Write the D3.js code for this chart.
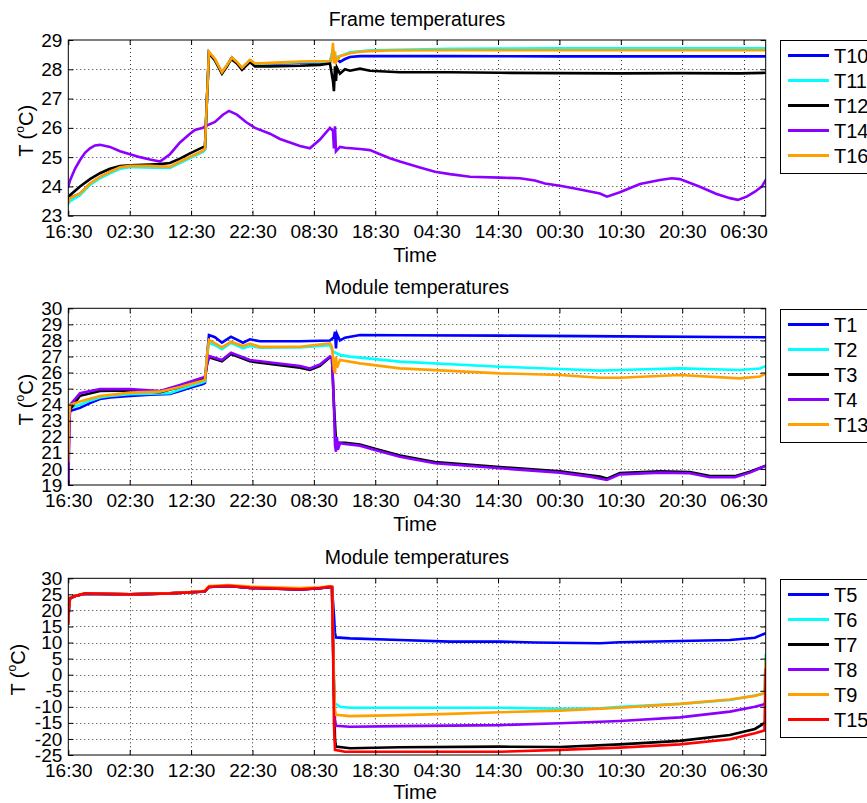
<!DOCTYPE html>
<html><head><meta charset="utf-8">
<script src="https://cdn.jsdelivr.net/npm/d3@7"></script>
<style>
body{margin:0;background:#fff}
svg{display:block}
text{font-family:"Liberation Sans",Arial,Helvetica,sans-serif;fill:#000}
</style>
</head><body>
<svg id="chart" width="867" height="803"></svg>
<script>
// ---------- DATA (x = hours since 16:30 on day 1, y = temperature °C) ----------
const xTickHours = [0,10,20,30,40,50,60,70,80,90,100,110];
const xTickLabels = ["16:30","02:30","12:30","22:30","08:30","18:30","04:30","14:30","00:30","10:30","20:30","06:30"];
const xEndHours = 113.6;

const frameTitle = "Frame temperatures";
const moduleTitle = "Module temperatures";
const frameYTicks = [23,24,25,26,27,28,29];
const moduleYTicks = [19,20,21,22,23,24,25,26,27,28,29,30];
const coldYTicks = [-25,-20,-15,-10,-5,0,5,10,15,20,25,30];

const frameNames = ["T10","T11","T12","T14","T16"];
const moduleNames = ["T1","T2","T3","T4","T13"];
const coldNames = ["T5","T6","T7","T8","T9","T15"];

// Frame temperatures
const T10 = [[0,23.5],[0.28,23.6],[1.91,23.75],[3.53,24.08],[5.16,24.3],[6.79,24.48],[8.42,24.62],[10.05,24.68],[16.56,24.65],[18.19,24.82],[19.82,24.99],[21.94,25.2],[22.26,25.27],[22.59,27.0],[22.91,28.58],[23.89,28.32],[25.03,27.88],[25.85,28.13],[26.66,28.4],[27.47,28.23],[28.29,28.03],[29.59,28.3],[30.41,28.18],[37.74,28.22],[42.62,28.24],[43.11,28.6],[43.44,28.4],[44.25,28.25],[45.07,28.35],[45.88,28.42],[47.51,28.45],[62.17,28.45],[80.09,28.44],[113.6,28.44]];
const T11 = [[0,23.4],[0.28,23.5],[1.91,23.7],[3.53,24.05],[5.16,24.28],[6.79,24.45],[8.42,24.6],[10.05,24.66],[16.56,24.64],[18.19,24.8],[19.82,24.97],[21.94,25.18],[22.26,25.25],[22.59,27.0],[22.91,28.55],[23.89,28.3],[25.03,27.88],[25.85,28.12],[26.66,28.38],[27.47,28.22],[28.29,28.03],[29.59,28.3],[30.41,28.18],[37.74,28.24],[42.62,28.26],[43.11,28.7],[43.44,28.4],[44.25,28.45],[45.88,28.58],[49.14,28.65],[62.17,28.7],[80.09,28.72],[113.6,28.72]];
const T12 = [[0,23.6],[0.28,23.7],[1.91,24.0],[3.53,24.25],[5.16,24.45],[6.79,24.6],[8.42,24.7],[10.05,24.72],[13.31,24.75],[14.93,24.76],[16.56,24.8],[18.19,24.95],[19.82,25.13],[21.94,25.34],[22.26,25.35],[22.59,27.0],[22.91,28.55],[23.89,28.3],[25.03,27.85],[25.85,28.1],[26.5,28.35],[27.47,28.2],[28.29,27.98],[29.59,28.25],[30.41,28.1],[32.85,28.1],[37.74,28.12],[40.99,28.15],[42.62,28.2],[43.11,27.6],[43.27,27.25],[43.44,28.1],[43.6,27.6],[43.76,28.05],[44.25,27.85],[45.07,28.0],[45.88,27.95],[47.51,28.02],[49.14,27.95],[54.02,27.9],[62.17,27.9],[70.31,27.88],[80.09,27.87],[89.85,27.86],[99.62,27.87],[109.4,27.86],[113.6,27.88]];
const T14 = [[0,24.0],[0.28,24.2],[1.09,24.6],[1.91,24.9],[2.72,25.15],[3.53,25.3],[4.35,25.4],[5.16,25.42],[6.79,25.35],[8.42,25.2],[10.05,25.1],[11.68,25.0],[13.31,24.92],[14.93,24.85],[16.56,25.1],[18.19,25.5],[19.82,25.8],[20.63,25.93],[21.94,26.0],[22.26,26.05],[23.89,26.2],[25.19,26.45],[26.17,26.58],[27.47,26.45],[28.94,26.2],[30.41,26.0],[32.85,25.8],[34.48,25.62],[36.11,25.5],[37.74,25.38],[39.36,25.3],[40.99,25.6],[42.62,26.0],[43.11,25.9],[43.27,25.3],[43.44,26.05],[43.6,25.2],[44.25,25.35],[45.07,25.32],[47.51,25.28],[49.14,25.24],[50.77,25.1],[52.39,24.96],[54.02,24.85],[57.28,24.65],[59.72,24.5],[62.17,24.42],[65.42,24.33],[70.31,24.3],[73.57,24.28],[76.01,24.2],[77.64,24.1],[80.09,24.02],[82.52,23.93],[86.6,23.76],[87.74,23.65],[89.85,23.8],[93.11,24.08],[96.37,24.22],[98.32,24.28],[99.62,24.25],[102.88,23.99],[105.5,23.75],[107.77,23.6],[109.07,23.54],[110.5,23.65],[111.84,23.82],[113.0,24.0],[113.6,24.22]];
const T16 = [[0,23.45],[0.28,23.6],[1.91,23.76],[3.53,24.1],[5.16,24.33],[6.79,24.5],[8.42,24.65],[10.05,24.7],[13.31,24.7],[16.56,24.67],[18.19,24.85],[19.82,25.01],[21.94,25.22],[22.26,25.3],[22.59,27.0],[22.91,28.6],[23.89,28.35],[25.03,27.9],[25.85,28.15],[26.66,28.4],[27.47,28.25],[28.29,28.05],[29.59,28.32],[30.41,28.2],[32.85,28.22],[37.74,28.26],[42.62,28.28],[42.95,28.4],[43.11,28.9],[43.27,28.2],[43.44,28.6],[43.6,28.25],[44.25,28.45],[45.07,28.5],[45.88,28.55],[47.51,28.6],[49.14,28.62],[52.39,28.64],[62.17,28.65],[80.09,28.65],[99.62,28.65],[113.6,28.65]];

// Module temperatures (upper)
const T1 = [[0,21.5],[0.11,23.2],[0.28,23.6],[1.91,23.8],[3.53,24.1],[5.16,24.35],[6.79,24.45],[10.05,24.55],[13.31,24.62],[16.56,24.66],[18.19,24.85],[19.82,25.05],[21.94,25.29],[22.26,25.35],[22.59,27.0],[22.91,28.34],[23.89,28.2],[25.03,27.86],[26.5,28.23],[27.47,28.05],[28.45,27.86],[29.59,28.07],[31.22,27.95],[37.74,27.95],[42.62,28.0],[43.27,28.2],[43.44,28.54],[43.6,27.5],[43.76,28.4],[44.25,28.0],[45.07,28.17],[47.51,28.34],[54.02,28.32],[70.31,28.3],[89.85,28.25],[113.6,28.2]];
const T2 = [[0,21.0],[0.11,23.0],[0.28,23.8],[1.91,24.0],[3.53,24.25],[5.16,24.45],[6.79,24.55],[10.05,24.65],[16.56,24.72],[18.19,24.95],[19.82,25.15],[21.94,25.4],[22.26,25.45],[22.59,27.0],[22.91,27.85],[23.89,27.7],[25.03,27.45],[26.5,27.85],[28.45,27.5],[29.59,27.65],[31.22,27.55],[37.74,27.57],[42.62,27.7],[43.11,27.3],[43.44,27.25],[44.25,27.1],[45.88,26.99],[54.02,26.68],[70.31,26.36],[80.09,26.22],[86.6,26.12],[89.85,26.16],[99.62,26.26],[109.4,26.16],[112.65,26.25],[113.6,26.4]];
const T3 = [[0,19.0],[0.11,22.5],[0.28,23.7],[1.91,24.55],[5.16,24.85],[10.05,24.88],[14.93,24.78],[18.19,25.1],[21.94,25.6],[22.26,25.65],[22.59,26.5],[22.91,26.95],[25.03,26.7],[26.5,27.15],[29.59,26.7],[37.74,26.3],[39.36,26.16],[40.99,26.42],[42.62,26.95],[42.95,26.9],[43.27,24.0],[43.6,21.8],[43.76,21.65],[45.07,21.62],[47.51,21.52],[49.95,21.26],[54.02,20.84],[59.72,20.43],[70.31,20.12],[80.09,19.85],[84.97,19.6],[86.6,19.52],[87.74,19.4],[89.85,19.74],[96.37,19.85],[101.25,19.8],[104.51,19.56],[108.58,19.55],[111.02,19.83],[113.6,20.2]];
const T4 = [[0,19.0],[0.11,21.0],[0.28,23.98],[1.91,24.71],[5.16,24.97],[10.05,24.97],[14.93,24.85],[18.19,25.22],[21.94,25.7],[22.26,25.75],[22.59,26.5],[22.91,27.03],[25.03,26.78],[26.5,27.24],[29.59,26.78],[37.74,26.41],[39.36,26.25],[40.99,26.5],[42.62,27.0],[42.95,26.9],[43.27,24.0],[43.44,21.5],[43.6,21.07],[43.76,22.0],[43.92,21.2],[44.25,21.6],[45.07,21.55],[47.51,21.45],[49.95,21.18],[54.02,20.76],[59.72,20.35],[70.31,20.04],[80.09,19.77],[84.97,19.52],[87.74,19.31],[89.85,19.66],[96.37,19.77],[101.25,19.73],[104.51,19.48],[108.58,19.48],[111.02,19.77],[113.6,20.2]];
const T13 = [[0,20.5],[0.11,23.0],[0.28,23.98],[1.91,24.2],[5.16,24.54],[10.05,24.75],[14.93,24.81],[18.19,25.1],[21.94,25.5],[22.26,25.55],[22.59,27.0],[22.91,28.03],[25.03,27.57],[26.5,27.92],[28.45,27.65],[29.59,27.8],[31.22,27.6],[37.74,27.61],[42.62,27.82],[42.95,27.6],[43.27,26.2],[43.44,25.95],[43.6,27.0],[43.76,26.3],[44.25,26.78],[47.51,26.57],[54.02,26.26],[70.31,25.95],[80.09,25.85],[86.6,25.68],[89.85,25.68],[99.62,25.85],[109.4,25.64],[112.65,25.75],[113.6,25.95]];

// Module temperatures (cold side)
const T5 = [[0,16],[0.11,21],[0.28,23.8],[1.09,24.5],[2.72,25.2],[10.05,25.0],[16.56,25.3],[21.45,25.8],[22.26,26.0],[22.91,27.3],[26.17,27.6],[29.59,27.0],[37.74,26.5],[40.99,26.9],[42.62,27.3],[42.95,27.2],[43.27,18.6],[43.44,13],[43.6,11.6],[45.88,11.3],[54.02,10.8],[62.17,10.3],[70.31,10.3],[76.01,10.0],[86.6,9.8],[89.85,10.1],[99.62,10.5],[107.77,10.8],[111.84,11.5],[113.6,12.9]];
const T6 = [[0,16],[0.11,21],[0.28,23.8],[1.09,24.5],[2.72,25.2],[10.05,25.0],[16.56,25.3],[21.45,25.8],[22.26,26.0],[22.91,27.4],[26.17,27.7],[29.59,27.1],[37.74,26.6],[40.99,27.0],[42.62,27.4],[42.95,27.3],[43.27,0],[43.44,-8.9],[44.25,-10],[45.88,-10.3],[70.31,-10.3],[80.09,-10.6],[86.6,-10.5],[89.85,-10],[99.62,-9.1],[107.77,-7.9],[111.84,-6.5],[113.4,-5.8],[113.6,6.1]];
const T7 = [[0,16],[0.11,21],[0.28,23.8],[1.09,24.5],[2.72,25.2],[10.05,25.0],[16.56,25.3],[21.45,25.8],[22.26,26.0],[22.91,27.3],[26.17,27.6],[29.59,27.0],[37.74,26.5],[40.99,26.9],[42.62,27.3],[42.95,27.2],[43.27,-5],[43.44,-20],[43.6,-22.4],[45.88,-22.9],[54.02,-22.6],[70.31,-22.4],[80.09,-22.5],[89.85,-21.7],[99.62,-20.6],[107.77,-18.8],[111.84,-16.9],[113.4,-15.1],[113.6,-14]];
const T8 = [[0,16],[0.11,21],[0.28,23.8],[1.09,24.5],[2.72,25.2],[10.05,25.0],[16.56,25.3],[21.45,25.8],[22.26,26.0],[22.91,27.3],[26.17,27.6],[29.59,27.0],[37.74,26.5],[40.99,26.9],[42.62,27.3],[42.95,27.2],[43.27,-5],[43.44,-14],[43.6,-15.9],[45.88,-16.2],[54.02,-16],[70.31,-15.7],[80.09,-15.1],[89.85,-14.4],[99.62,-13.3],[107.77,-11.5],[111.84,-10.0],[113.4,-9.2],[113.6,-8]];
const T9 = [[0,16],[0.11,21],[0.28,23.9],[1.09,24.6],[2.72,25.3],[10.05,25.05],[16.56,25.35],[21.45,25.9],[22.26,26.1],[22.91,27.6],[26.17,27.9],[29.59,27.4],[37.74,27.0],[40.99,27.2],[42.62,27.5],[42.95,27.4],[43.27,-2],[43.44,-11],[43.6,-12.5],[45.88,-12.9],[54.02,-12.6],[62.17,-12.2],[70.31,-11.7],[80.09,-11.2],[89.85,-10.3],[99.62,-9.1],[107.77,-7.7],[111.84,-6.6],[113.4,-5.8],[113.6,4.6]];
const T15 = [[0,16.5],[0.11,21],[0.28,23.8],[1.09,24.5],[2.72,25.3],[10.05,25.0],[16.56,25.3],[21.45,25.8],[22.26,26.0],[22.91,27.4],[26.17,27.7],[29.59,27.1],[37.74,26.6],[40.99,27.0],[42.62,27.4],[42.95,27.3],[43.11,10],[43.27,-15],[43.44,-23.4],[45.07,-24],[54.02,-24],[70.31,-24],[80.09,-23.4],[89.85,-22.7],[99.62,-21.7],[107.77,-20.1],[111.84,-18.2],[113.4,-17.4],[113.6,1.5]];

// ---------- STYLE ----------
const COL = {blue:"#0000ff", cyan:"#00ffff", black:"#000000", purple:"#8c00ff", orange:"#ffa000", red:"#ff0000"};

const panels = [
  {title:frameTitle, top:40, bottom:215.7, yDomain:[23,29], yTicks:frameYTicks,
   names:frameNames, series:[T10,T11,T12,T14,T16],
   colors:[COL.blue,COL.cyan,COL.black,COL.purple,COL.orange], legendTop:40, ylabX:26},
  {title:moduleTitle, top:308.3, bottom:485, yDomain:[19,30], yTicks:moduleYTicks,
   names:moduleNames, series:[T1,T2,T3,T4,T13],
   colors:[COL.blue,COL.cyan,COL.black,COL.purple,COL.orange], legendTop:309, ylabX:26},
  {title:moduleTitle, top:578.3, bottom:755, yDomain:[-25,30], yTicks:coldYTicks,
   names:coldNames, series:[T5,T6,T7,T8,T9,T15],
   colors:[COL.blue,COL.cyan,COL.black,COL.purple,COL.orange,COL.red], legendTop:579, ylabX:18}
];

const svg = d3.select("#chart");
svg.append("rect").attr("width",867).attr("height",803).attr("fill","#fff");

const X0 = 68.3, X1 = 765.7;
const x = d3.scaleLinear().domain([0, xEndHours]).range([X0, X1]);

panels.forEach((p, pi) => {
  const y = d3.scaleLinear().domain(p.yDomain).range([p.bottom, p.top]);
  const g = svg.append("g");
  const clipId = "clip" + pi;
  svg.append("clipPath").attr("id", clipId).append("rect")
    .attr("x", X0).attr("y", p.top).attr("width", X1 - X0).attr("height", p.bottom - p.top);

  // grid
  const grid = g.append("g").attr("stroke","#333").attr("stroke-width",1)
    .attr("stroke-dasharray","1,3").attr("fill","none");
  xTickHours.slice(1).forEach(h => {
    grid.append("line").attr("x1", Math.round(x(h))+0.5).attr("x2", Math.round(x(h))+0.5)
      .attr("y1", p.top).attr("y2", p.bottom);
  });
  p.yTicks.forEach(v => {
    if (v === p.yDomain[0] || v === p.yDomain[1]) return;
    grid.append("line").attr("x1", X0).attr("x2", X1)
      .attr("y1", Math.round(y(v))+0.5).attr("y2", Math.round(y(v))+0.5);
  });

  // lines
  const line = d3.line().x(d => x(d[0])).y(d => y(d[1]));
  const lg = g.append("g").attr("clip-path", `url(#${clipId})`);
  p.series.forEach((s, i) => {
    lg.append("path").datum(s).attr("d", line).attr("fill","none")
      .attr("stroke", p.colors[i]).attr("stroke-width", 2.6)
      .attr("stroke-linejoin","miter").attr("stroke-linecap","square");
  });

  // axes
  const xAxis = d3.axisBottom(x).tickValues(xTickHours)
    .tickFormat((d,i) => xTickLabels[i]).tickSizeInner(-5).tickSizeOuter(0).tickPadding(9);
  const xTop = d3.axisTop(x).tickValues(xTickHours).tickFormat("").tickSizeInner(-5).tickSizeOuter(0);
  const yAxis = d3.axisLeft(y).tickValues(p.yTicks).tickFormat(d => String(d))
    .tickSizeInner(-5).tickSizeOuter(0).tickPadding(6);
  const yRight = d3.axisRight(y).tickValues(p.yTicks).tickFormat("").tickSizeInner(-5).tickSizeOuter(0);

  [[xAxis, `translate(0,${p.bottom})`],[xTop, `translate(0,${p.top})`],
   [yAxis, `translate(${X0},0)`],[yRight, `translate(${X1},0)`]].forEach(([ax, tr]) => {
    const a = g.append("g").attr("transform", tr).call(ax);
    a.select(".domain").remove();
    a.selectAll("line").attr("stroke","#000");
    a.selectAll("text").attr("font-size", 19).attr("font-family", '"Liberation Sans", Arial, sans-serif').attr("fill","#000");
  });
  g.append("rect").attr("x", X0).attr("y", p.top).attr("width", X1 - X0).attr("height", p.bottom - p.top)
    .attr("fill","none").attr("stroke","#000").attr("stroke-width",1);

  // title
  g.append("text").attr("x", (X0 + X1) / 2).attr("y", p.top - 14)
    .attr("text-anchor","middle").attr("font-size", 19.5).text(p.title);
  // x label
  g.append("text").attr("x", (X0 + X1) / 2 - 2).attr("y", Math.min(p.bottom + 46, 799))
    .attr("text-anchor","middle").attr("font-size", 20).text("Time");
  // y label
  const cy = (p.top + p.bottom) / 2 + 3;
  const yl = g.append("text").attr("transform", `translate(${p.ylabX + 7},${cy}) rotate(-90)`)
    .attr("text-anchor","middle").attr("font-size", 20);
  yl.append("tspan").text("T (");
  yl.append("tspan").attr("font-size", 12).attr("dy", -9).text("o");
  yl.append("tspan").attr("dy", 9).text("C)");

  // legend
  const n = p.names.length;
  const lgTop = p.legendTop;
  const lgH = 15 + (n - 1) * 25 + 18;
  const leg = svg.append("g");
  leg.append("rect").attr("x", 780.5).attr("y", lgTop + 0.5).attr("width", 120).attr("height", lgH)
    .attr("fill","#fff").attr("stroke","#000").attr("stroke-width",1);
  p.names.forEach((nm, i) => {
    const cyL = lgTop + 15.5 + i * 25;
    leg.append("line").attr("x1", 788).attr("x2", 829).attr("y1", cyL).attr("y2", cyL)
      .attr("stroke", p.colors[i]).attr("stroke-width", 3);
    leg.append("text").attr("x", 834).attr("y", cyL + 7.5).attr("font-size", 20).text(nm);
  });
});
</script>
</body></html>
